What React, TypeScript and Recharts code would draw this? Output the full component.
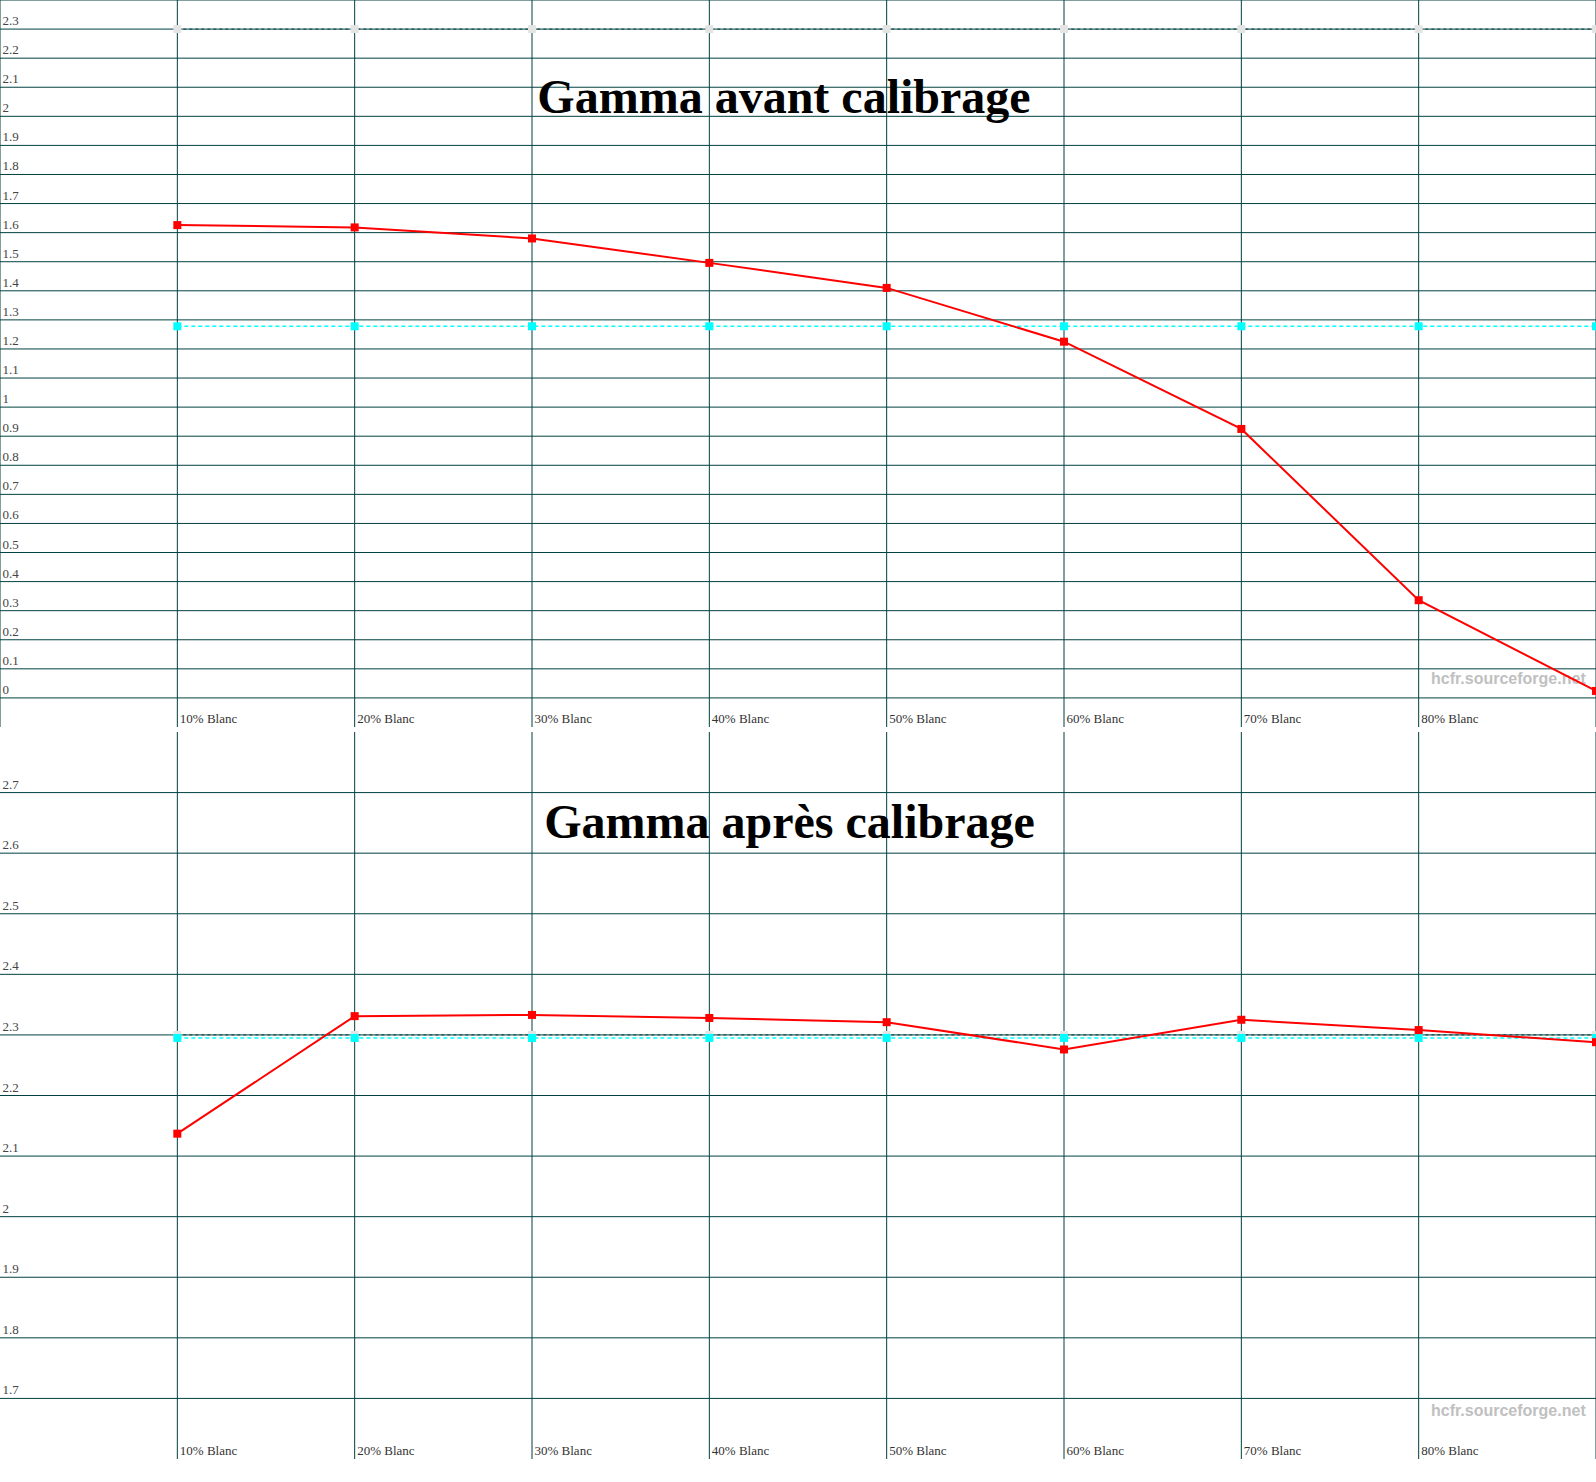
import { LineChart, Line, XAxis, YAxis, CartesianGrid } from "recharts";

const X_VALUES = [10, 20, 30, 40, 50, 60, 70, 80, 90];
const X_LABELS = ["10% Blanc", "20% Blanc", "30% Blanc", "40% Blanc", "50% Blanc", "60% Blanc", "70% Blanc", "80% Blanc", "90% Blanc"];

const TARGET_GAMMA = [2.3, 2.3, 2.3, 2.3, 2.3, 2.3, 2.3, 2.3, 2.3];

const BEFORE_GAMMA = [1.626, 1.618, 1.58, 1.496, 1.41, 1.225, 0.925, 0.336, 0.024];
const BEFORE_AVG = [1.278, 1.278, 1.278, 1.278, 1.278, 1.278, 1.278, 1.278, 1.278];

const AFTER_GAMMA = [2.137, 2.331, 2.333, 2.328, 2.321, 2.276, 2.325, 2.308, 2.288];
const AFTER_AVG = [2.295, 2.295, 2.295, 2.295, 2.295, 2.295, 2.295, 2.295, 2.295];

const TOP_Y_TICKS = [0, 0.1, 0.2, 0.3, 0.4, 0.5, 0.6, 0.7, 0.8, 0.9, 1, 1.1, 1.2, 1.3, 1.4, 1.5, 1.6, 1.7, 1.8, 1.9, 2, 2.1, 2.2, 2.3, 2.4];
const BOTTOM_Y_TICKS = [1.7, 1.8, 1.9, 2, 2.1, 2.2, 2.3, 2.4, 2.5, 2.6, 2.7];

const W = 1596;
const H = 727;
const GRID = "#004040";
const SERIF = '"Liberation Serif", "Times New Roman", serif';
const SANS = '"Liberation Sans", Arial, sans-serif';

const topData = X_VALUES.map((x, i) => ({ x, target: TARGET_GAMMA[i], avg: BEFORE_AVG[i], gamma: BEFORE_GAMMA[i] }));
const bottomData = X_VALUES.map((x, i) => ({ x, target: TARGET_GAMMA[i], avg: AFTER_AVG[i], gamma: AFTER_GAMMA[i] }));

const squareDot = (color: string, size: number) => (p: any) => (
  <rect key={`d-${p.index}`} x={p.cx - size / 2} y={p.cy - size / 2} width={size} height={size} fill={color} />
);

// labels whose start would sit past the right edge are not drawn (the original crops them off)
const XTick = (p: any) => {
  const i = X_VALUES.indexOf(p.payload.value);
  if (i < 0 || p.x > W - 40) return <g />;
  return (
    <text x={p.x + 2.5} y={H - 4} fontSize={13} fontFamily={SERIF} fill="#333">
      {X_LABELS[i]}
    </text>
  );
};

const YTick = (maxLabel: number) => (p: any) => {
  if (p.payload.value > maxLabel) return <g />;
  return (
    <text x={2.5} y={p.y - 4} fontSize={13} fontFamily={SERIF} fill="#444">
      {String(p.payload.value)}
    </text>
  );
};

function GammaChart({ data, domain, yTicks, xTicks, maxLabel }: any) {
  return (
    <LineChart width={W} height={H} data={data} margin={{ top: 0, right: 0, bottom: 0, left: 0 }}>
      <CartesianGrid stroke={GRID} strokeWidth={1} syncWithTicks />
      <XAxis dataKey="x" type="number" domain={[0, 90]} ticks={xTicks} interval={0} height={30} mirror
        axisLine={false} tickLine={false} tick={XTick} />
      <YAxis type="number" domain={domain} ticks={yTicks} interval={0} width={40} mirror
        axisLine={false} tickLine={false} tick={YTick(maxLabel)} />
      <Line dataKey="target" type="linear" stroke={GRID} strokeWidth={1} strokeDasharray="3 3"
        dot={squareDot("#e4e4e4", 8)} activeDot={false} isAnimationActive={false} />
      <Line dataKey="avg" type="linear" stroke="#00ffff" strokeWidth={1.5} strokeDasharray="4 3"
        dot={squareDot("#00ffff", 8)} activeDot={false} isAnimationActive={false} />
      <Line dataKey="gamma" type="linear" stroke="#ff0000" strokeWidth={2}
        dot={squareDot("#ff0000", 8)} activeDot={false} isAnimationActive={false} />
    </LineChart>
  );
}

export default function App() {
  return (
    <div style={{ position: "relative", width: W, height: 1482, background: "#fff", overflow: "hidden" }}>
      <style>{"body{margin:0}"}</style>
      <svg width={W} height={1482} style={{ position: "absolute", left: 0, top: 0 }}>
        <text x={1431} y={684} fontSize={16} fontWeight="bold" fontFamily={SANS} fill="#c0c0c0">hcfr.sourceforge.net</text>
        <text x={1431} y={1416} fontSize={16} fontWeight="bold" fontFamily={SANS} fill="#c0c0c0">hcfr.sourceforge.net</text>
      </svg>
      <div style={{ position: "absolute", left: 0, top: 0 }}>
        <GammaChart data={topData} domain={[-0.1, 2.4]} yTicks={TOP_Y_TICKS} xTicks={[0, ...X_VALUES]} maxLabel={2.3} />
      </div>
      <div style={{ position: "absolute", left: 0, top: 732 }}>
        <GammaChart data={bottomData} domain={[1.6, 2.8]} yTicks={BOTTOM_Y_TICKS} xTicks={X_VALUES} maxLabel={2.7} />
      </div>
      <svg width={W} height={1482} style={{ position: "absolute", left: 0, top: 0, pointerEvents: "none" }}>
        <text x={784} y={113} textAnchor="middle" fontSize={48} fontWeight="bold" fontFamily={SERIF} fill="#000">Gamma avant calibrage</text>
        <text x={789.5} y={838} textAnchor="middle" fontSize={48} fontWeight="bold" fontFamily={SERIF} fill="#000">Gamma après calibrage</text>
      </svg>
    </div>
  );
}
